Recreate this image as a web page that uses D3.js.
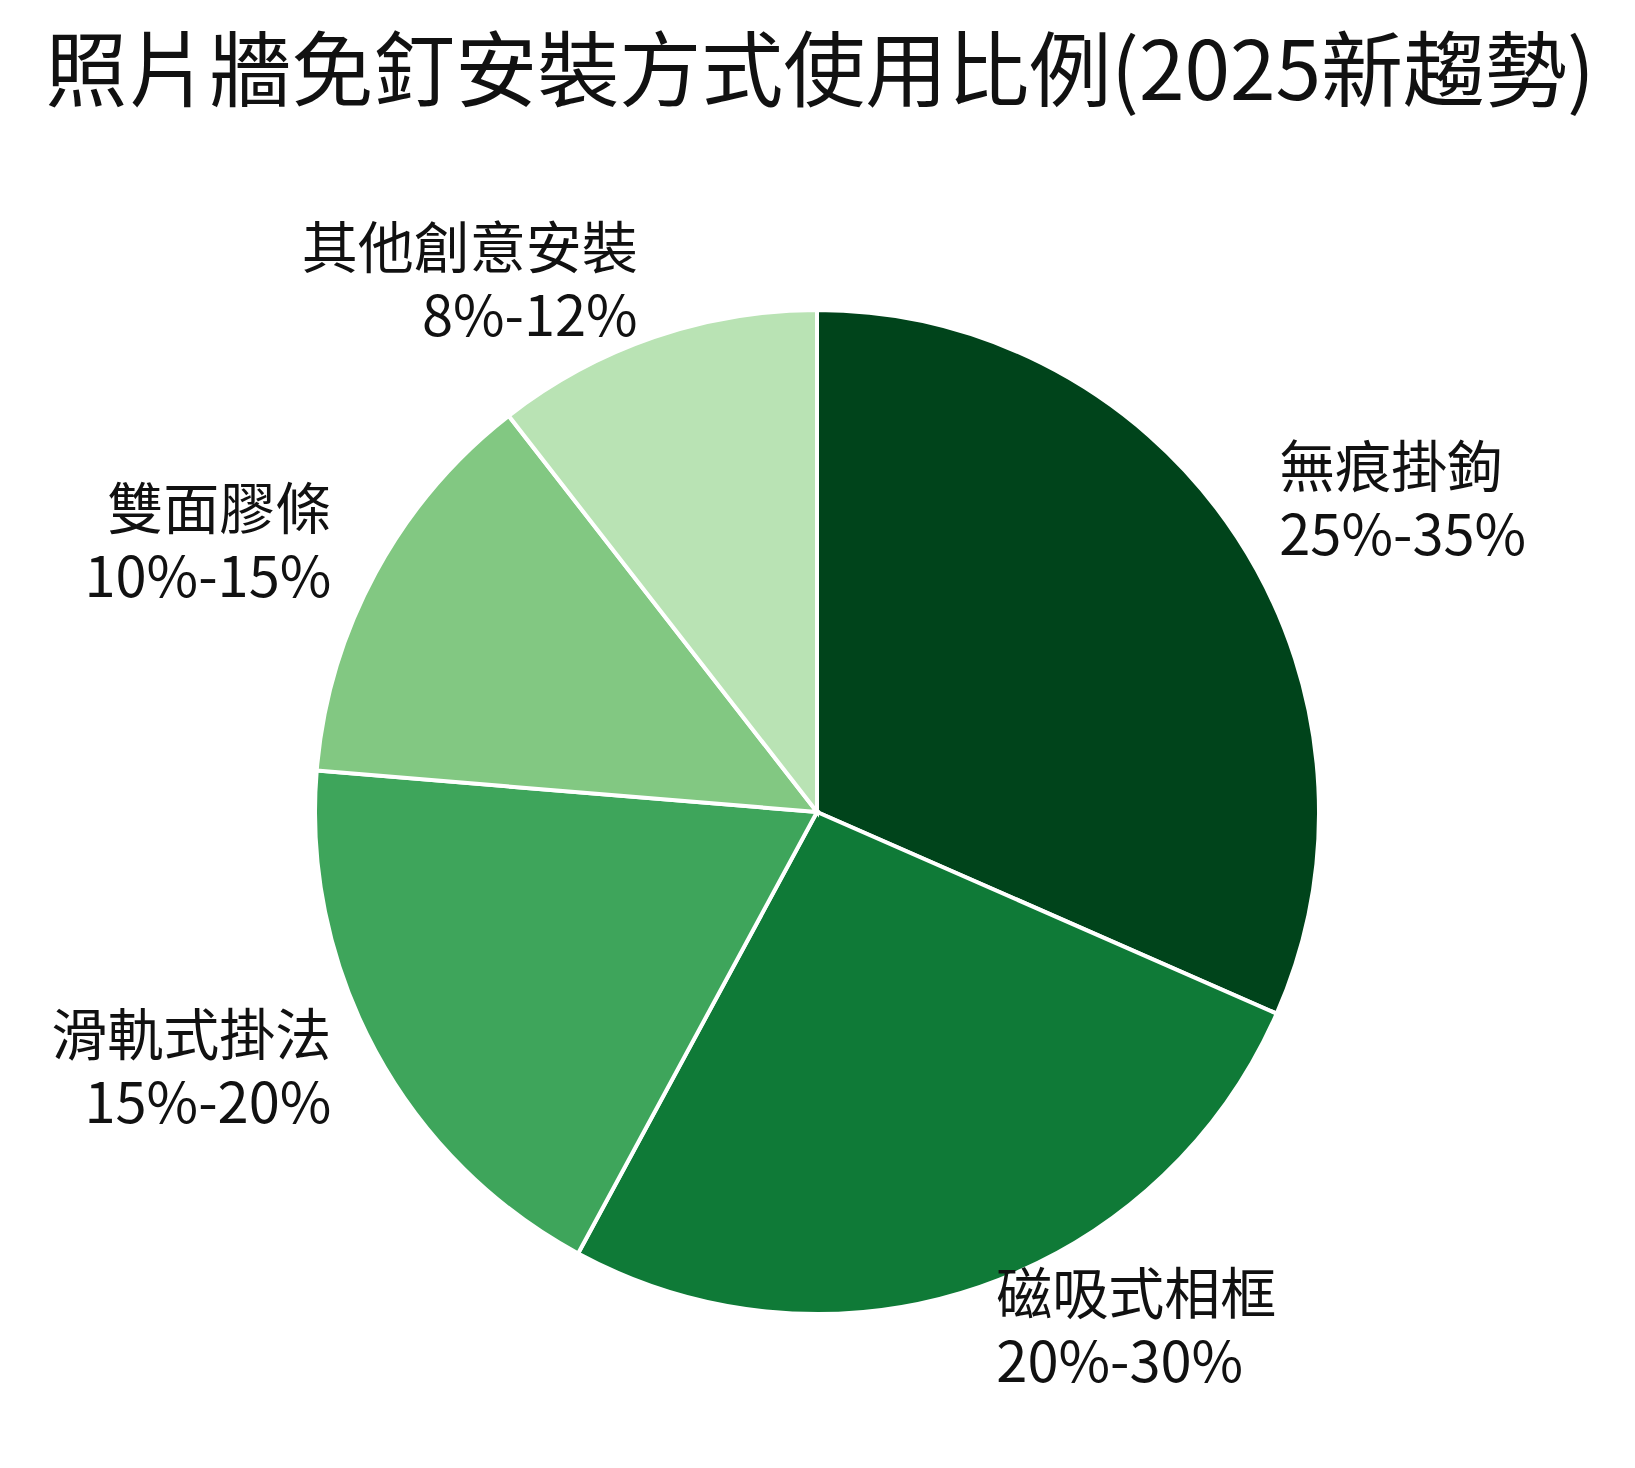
<!DOCTYPE html>
<html><head><meta charset="utf-8">
<script src="https://cdn.jsdelivr.net/npm/d3@7"></script>
<style>body{margin:0;background:#fff}</style></head>
<body><svg id="c" width="1635" height="1468"></svg>
<script>
const categories=["無痕掛鉤","磁吸式相框","滑軌式掛法","雙面膠條","其他創意安裝"];
const ranges=["25%-35%","20%-30%","15%-20%","10%-15%","8%-12%"];
const values=[30,25,17.5,12.5,10];
const colors=["#00441b","#0f7a37","#3ea55b","#82c882","#b9e3b4"];
const svg=d3.select("#c"),F="'Noto Sans CJK TC','Noto Sans',sans-serif";
svg.append("text").attr("x",820).attr("y",100).attr("text-anchor","middle").attr("font-family",F).attr("font-size",82).attr("fill","#111").text("照片牆免釘安裝方式使用比例(2025新趨勢)");
const cx=817,cy=812,R=502;
const g=svg.append("g").attr("transform",`translate(${cx},${cy})`);
const pie=d3.pie().sort(null).value(d=>d)(values);
const arc=d3.arc().innerRadius(0).outerRadius(R);
g.selectAll("path").data(pie).join("path").attr("d",arc).attr("fill",(d,i)=>colors[i]).attr("stroke","#fff").attr("stroke-width",4);
const la=d3.arc().innerRadius(R*1.1).outerRadius(R*1.1);
const adj=[[0,-23],[0,-20],[0,-20],[0,-20],[0,-22]];
pie.forEach((d,i)=>{
  const [x,y]=la.centroid(d);const left=x<0;
  const t=g.append("text").attr("font-family",F).attr("font-size",56).attr("fill","#111")
   .attr("text-anchor",left?"end":"start").attr("x",x+adj[i][0]).attr("y",y+adj[i][1]);
  t.append("tspan").attr("x",x+adj[i][0]).text(categories[i]);
  t.append("tspan").attr("x",x+adj[i][0]).attr("dy",68).text(ranges[i]);
});
</script></body></html>
